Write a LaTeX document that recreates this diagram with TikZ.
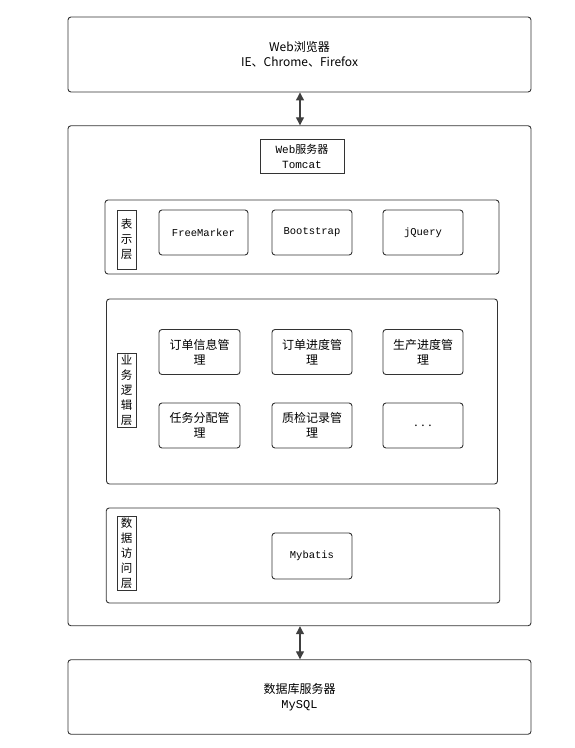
\documentclass[tikz,border=0pt]{standalone}
\usepackage{fontspec}
\setmainfont{Noto Sans CJK SC}
\newfontfamily\mono{Liberation Mono}
\usepackage{tikz}
\usetikzlibrary{positioning,arrows.meta}

\begin{document}
\begin{tikzpicture}[
    x=1pt, y=-1pt,
    frame/.style={draw=black!80, line width=0.9pt, rounded corners=3pt, inner sep=0pt, align=center, font=\fontsize{12}{15}\selectfont},
    item/.style={frame, minimum width=80pt, minimum height=45pt},
    tag/.style={draw=black!80, line width=0.9pt, inner sep=0pt, minimum width=19pt, align=center, font=\fontsize{11.5}{15}\selectfont},
    arr/.style={{Triangle[length=8pt,width=8pt]}-{Triangle[length=8pt,width=8pt]}, line width=1.2pt, black!75}
]
    \useasboundingbox (0,0) rectangle (574,748);

    % --- Browser ---
    \node[frame, minimum width=463pt, minimum height=75pt] (browser) at (299.5,54.5) {Web浏览器\\IE、Chrome、Firefox};

    % --- Web server ---
    \node[frame, minimum width=463pt, minimum height=500pt] (server) at (299.5,375.75) {};
    \node[tag, minimum width=84pt, minimum height=34pt, font=\fontsize{11}{15}\selectfont] (tomcat) at (302,156) {{\mono Web}服务器\\{\mono Tomcat}};

    % --- Presentation layer ---
    \node[frame, minimum width=394pt, minimum height=74pt] (view) at (302,237) {};
    \node[tag, minimum height=59pt] (viewtag) at (126.5,239.5) {表\\示\\层};
    \node[item, minimum width=89pt, font=\fontsize{10.5}{14}\mono] (freemarker) at (203.5,232.5) {FreeMarker};
    \node[item, font=\fontsize{10.5}{14}\mono] (bootstrap) at (312,232.5) {Bootstrap};
    \node[item, font=\fontsize{10.5}{14}\mono] (jquery) at (423,232.5) {jQuery};

    % --- Business logic layer ---
    \node[frame, minimum width=391pt, minimum height=185pt] (logic) at (302,391.5) {};
    \node[tag, minimum height=74pt] (logictag) at (126.5,390) {业\\务\\逻\\辑\\层};
    \node[item, minimum width=81pt] (orderinfo) at (199.5,352) {订单信息管\\理};
    \node[item] (orderprog) at (312,352) {订单进度管\\理};
    \node[item] (prodprog) at (423,352) {生产进度管\\理};
    \node[item, minimum width=81pt] (task) at (199.5,425.5) {任务分配管\\理};
    \node[item] (quality) at (312,425.5) {质检记录管\\理};
    \node[item] (more) at (423,425.5) {. . .};

    % --- Data access layer ---
    \node[frame, minimum width=393.5pt, minimum height=95pt] (data) at (303,555.5) {};
    \node[tag, minimum height=74pt] (datatag) at (126.5,553) {数\\据\\访\\问\\层};
    \node[item, minimum height=46pt, font=\fontsize{10.5}{14}\mono] (mybatis) at (312,556) {Mybatis};

    % --- Database server ---
    \node[frame, minimum width=463pt, minimum height=74.5pt] (db) at (299.5,697) {数据库服务器\\{\mono MySQL}};

    % --- Connectors ---
    \draw[arr] (browser.south -| 300,0) -- (server.north -| 300,0);
    \draw[arr] (server.south -| 300,0) -- (db.north -| 300,0);
\end{tikzpicture}
\end{document}
